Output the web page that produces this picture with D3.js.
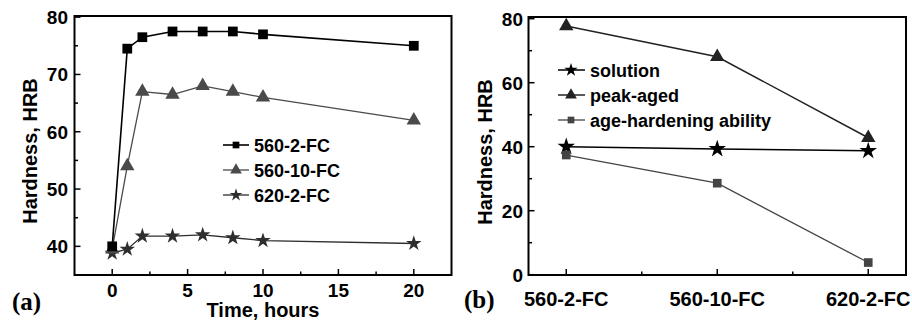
<!DOCTYPE html>
<html><head><meta charset="utf-8">
<script src="https://cdn.jsdelivr.net/npm/d3@7/dist/d3.min.js"></script>
<style>
body{margin:0;background:#fff;}
text{font-family:"Liberation Sans",Arial,sans-serif;font-weight:bold;fill:#000;}
</style></head>
<body><svg id="c" width="912" height="320"></svg>
<script>
// ---- Data ----
const timeHours = [0, 1, 2, 4, 6, 8, 10, 20];
const s560_2 = [40, 74.5, 76.5, 77.5, 77.5, 77.5, 77, 75];
const s560_10 = [39.5, 54, 67, 66.5, 68, 67, 66, 62];
const s620_2 = [38.8, 39.5, 41.8, 41.8, 42, 41.5, 41, 40.5];
const leftSeriesNames = ["560-2-FC", "560-10-FC", "620-2-FC"];
const leftXTicks = [0, 5, 10, 15, 20];
const leftYTicks = [40, 50, 60, 70, 80];

const conditions = ["560-2-FC", "560-10-FC", "620-2-FC"];
const solution = [40, 39.3, 38.7];
const peakAged = [77.7, 68.1, 42.8];
const ageHardening = [37.4, 28.6, 3.8];
const rightSeriesNames = ["solution", "peak-aged", "age-hardening ability"];
const rightYTicks = [0, 20, 40, 60, 80];

const svg = d3.select("#c");

function frame(g, x0, x1, y0, y1) {
  g.append("rect").attr("x", x0).attr("y", y0).attr("width", x1 - x0).attr("height", y1 - y0)
    .attr("fill", "none").attr("stroke", "#000").attr("stroke-width", 2);
}
function star(size){return d3.symbol().type(d3.symbolStar).size(size)();}
function tri(size){return d3.symbol().type(d3.symbolTriangle).size(size)();}
function sq(size){return d3.symbol().type(d3.symbolSquare).size(size)();}

// ===== Left panel =====
const L = {x0: 74.5, x1: 451.5, y0: 16, y1: 275};
const xL = d3.scaleLinear().domain([-2.5, 22.5]).range([L.x0, L.x1]);
const yL = d3.scaleLinear().domain([35, 80]).range([L.y1, L.y1 - 45 * 5.73]);
const gl = svg.append("g");

leftXTicks.forEach(t => gl.append("line").attr("x1", xL(t)).attr("x2", xL(t)).attr("y1", L.y1).attr("y2", L.y1 - 6).attr("stroke", "#000").attr("stroke-width", 1.5));
[2.5, 7.5, 12.5, 17.5].forEach(t => gl.append("line").attr("x1", xL(t)).attr("x2", xL(t)).attr("y1", L.y1).attr("y2", L.y1 - 3.5).attr("stroke", "#000").attr("stroke-width", 1.5));
leftYTicks.forEach(t => gl.append("line").attr("x1", L.x0).attr("x2", L.x0 + 6).attr("y1", yL(t)).attr("y2", yL(t)).attr("stroke", "#000").attr("stroke-width", 1.5));
[45, 55, 65, 75].forEach(t => gl.append("line").attr("x1", L.x0).attr("x2", L.x0 + 3.5).attr("y1", yL(t)).attr("y2", yL(t)).attr("stroke", "#000").attr("stroke-width", 1.5));

gl.selectAll(".xl").data(leftXTicks).enter().append("text")
  .attr("x", d => xL(d)).attr("y", 297).attr("text-anchor", "middle").attr("font-size", 19).text(d => d);
gl.selectAll(".yl").data(leftYTicks).enter().append("text")
  .attr("x", 68).attr("y", d => yL(d) + 7).attr("text-anchor", "end").attr("font-size", 19).text(d => d);
gl.append("text").attr("x", 263).attr("y", 317).attr("text-anchor", "middle").attr("font-size", 20).text("Time, hours");
gl.append("text").attr("transform", "translate(37,151) rotate(-90)").attr("text-anchor", "middle").attr("font-size", 20).text("Hardness, HRB");
gl.append("text").attr("x", 12).attr("y", 310).attr("font-size", 25).style("font-family", "'Liberation Serif','Times New Roman',serif").text("(a)");

const leftSeries = [
  {name: leftSeriesNames[0], vals: s560_2, color: "#000", lw: 1.6, sym: sq, size: 95, lsize: 45},
  {name: leftSeriesNames[1], vals: s560_10, color: "#4a4a4a", lw: 1.3, sym: tri, size: 90, lsize: 60},
  {name: leftSeriesNames[2], vals: s620_2, color: "#2e2e2e", lw: 1.3, sym: star, size: 75, lsize: 50}
];
const lineL = d3.line().x((d, i) => xL(timeHours[i])).y(d => yL(d));
leftSeries.slice().reverse().forEach(s => {
  gl.append("path").attr("d", lineL(s.vals)).attr("fill", "none").attr("stroke", s.color).attr("stroke-width", s.lw);
});
leftSeries.slice().reverse().forEach(s => {
  s.vals.forEach((v, i) => gl.append("path").attr("d", s.sym(s.size))
    .attr("transform", `translate(${xL(timeHours[i])},${yL(v)})`).attr("fill", s.color));
});
leftSeries.forEach((s, i) => {
  const cy = 145 + i * 25;
  gl.append("line").attr("x1", 223).attr("x2", 249).attr("y1", cy).attr("y2", cy).attr("stroke", s.color).attr("stroke-width", s.lw);
  gl.append("path").attr("d", s.sym(s.lsize)).attr("transform", `translate(236,${cy})`).attr("fill", s.color);
  gl.append("text").attr("x", 254).attr("y", cy + 6.5).attr("font-size", 18).text(s.name);
});
frame(gl, L.x0, L.x1, L.y0, L.y1);

// ===== Right panel =====
const R = {x0: 528.5, x1: 906, y0: 17, y1: 275};
const xR = d3.scaleLinear().domain([-0.25, 2.25]).range([R.x0, R.x1]);
const yR = d3.scaleLinear().domain([0, 80]).range([274.7, 18.7]);
const gr = svg.append("g");
[0, 1, 2].forEach(t => gr.append("line").attr("x1", xR(t)).attr("x2", xR(t)).attr("y1", R.y1).attr("y2", R.y1 - 6).attr("stroke", "#000").attr("stroke-width", 1.5));
[0.5, 1.5].forEach(t => gr.append("line").attr("x1", xR(t)).attr("x2", xR(t)).attr("y1", R.y1).attr("y2", R.y1 - 3.5).attr("stroke", "#000").attr("stroke-width", 1.5));
rightYTicks.forEach(t => gr.append("line").attr("x1", R.x0).attr("x2", R.x0 + 6).attr("y1", yR(t)).attr("y2", yR(t)).attr("stroke", "#000").attr("stroke-width", 1.5));
[10, 30, 50, 70].forEach(t => gr.append("line").attr("x1", R.x0).attr("x2", R.x0 + 3.5).attr("y1", yR(t)).attr("y2", yR(t)).attr("stroke", "#000").attr("stroke-width", 1.5));

gr.selectAll(".xr").data(conditions).enter().append("text")
  .attr("x", (d, i) => xR(i)).attr("y", 306).attr("text-anchor", "middle").attr("font-size", 20).text(d => d);
gr.selectAll(".yr").data(rightYTicks).enter().append("text")
  .attr("x", 523).attr("y", d => yR(d) + 7).attr("text-anchor", "end").attr("font-size", 19).text(d => d);
gr.append("text").attr("transform", "translate(492,152) rotate(-90)").attr("text-anchor", "middle").attr("font-size", 20).text("Hardness, HRB");
gr.append("text").attr("x", 464).attr("y", 308).attr("font-size", 25).style("font-family", "'Liberation Serif','Times New Roman',serif").text("(b)");

const rightSeries = [
  {name: rightSeriesNames[0], vals: solution, color: "#000", lw: 1.5, sym: star, size: 95, lsize: 55},
  {name: rightSeriesNames[1], vals: peakAged, color: "#222", lw: 1.5, sym: tri, size: 90, lsize: 60},
  {name: rightSeriesNames[2], vals: ageHardening, color: "#444", lw: 1.3, sym: sq, size: 75, lsize: 45}
];
const lineR = d3.line().x((d, i) => xR(i)).y(d => yR(d));
rightSeries.forEach(s => {
  gr.append("path").attr("d", lineR(s.vals)).attr("fill", "none").attr("stroke", s.color).attr("stroke-width", s.lw);
  s.vals.forEach((v, i) => gr.append("path").attr("d", s.sym(s.size))
    .attr("transform", `translate(${xR(i)},${yR(v)})`).attr("fill", s.color));
});
rightSeries.forEach((s, i) => {
  const cy = 70 + i * 25;
  gr.append("line").attr("x1", 558).attr("x2", 585).attr("y1", cy).attr("y2", cy).attr("stroke", s.color).attr("stroke-width", s.lw);
  gr.append("path").attr("d", s.sym(s.lsize)).attr("transform", `translate(571,${cy})`).attr("fill", s.color);
  gr.append("text").attr("x", 590).attr("y", cy + 6.5).attr("font-size", 18).text(s.name);
});
frame(gr, R.x0, R.x1, R.y0, R.y1);
</script></body></html>
